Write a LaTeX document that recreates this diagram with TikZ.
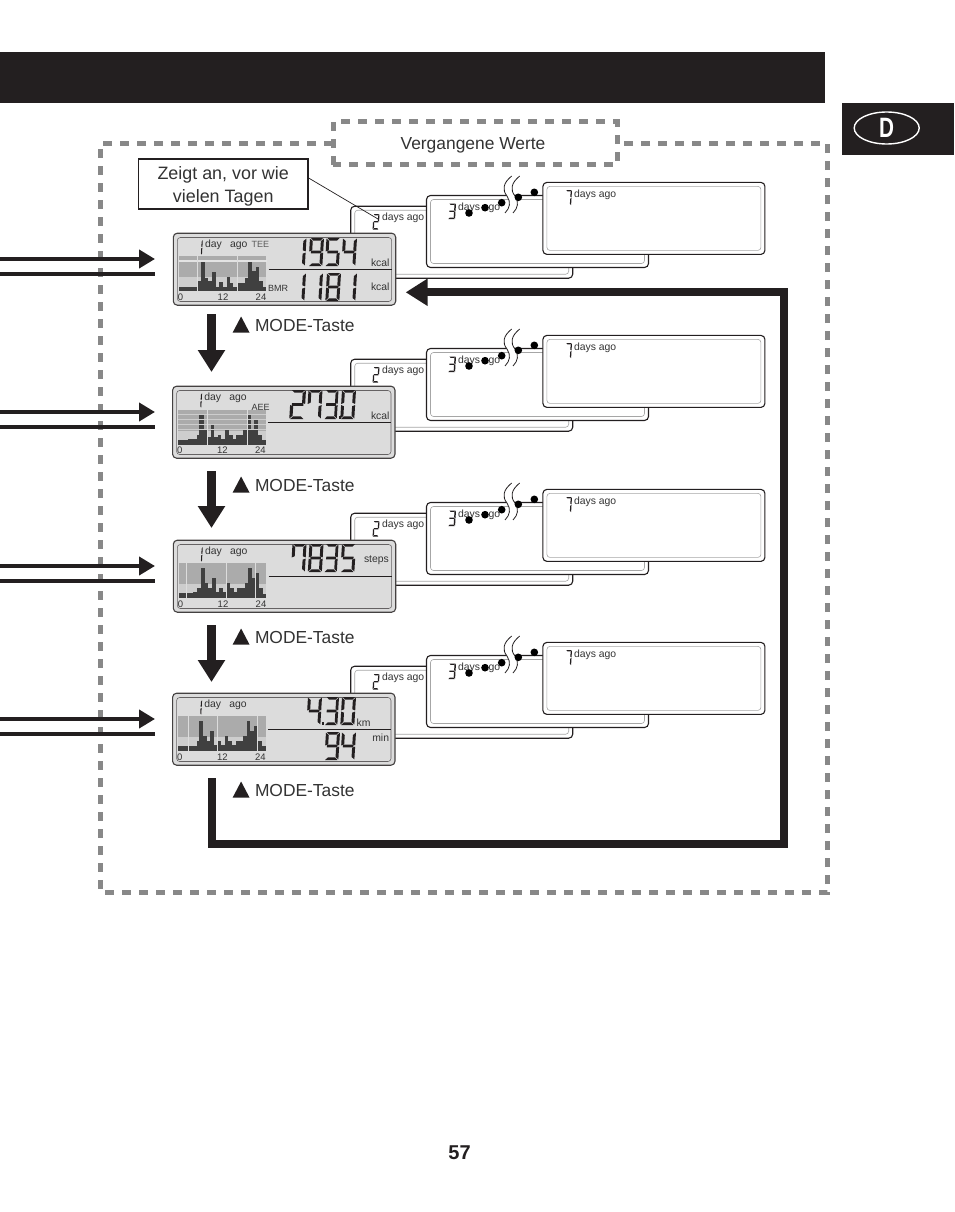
\documentclass[tikz,border=0pt]{standalone}
\usepackage{fontspec}
\setmainfont{Liberation Sans}
\usetikzlibrary{arrows.meta,shapes.geometric}
\definecolor{ink}{HTML}{231F20}
\definecolor{dashgray}{HTML}{888888}
\definecolor{txtgray}{HTML}{333333}
\definecolor{lcdbg}{HTML}{DCDCDC}
\definecolor{bandgray}{HTML}{ABABAB}
\definecolor{lowgray}{HTML}{CDCDCD}
\definecolor{barink}{HTML}{404040}
\tikzset{
  dashedline/.style={draw=dashgray,line width=5pt,dash pattern=on 9pt off 8pt},
  bigtxt/.style={inner sep=0pt,outer sep=0pt,text=txtgray,font=\fontsize{17.4}{23}\selectfont},
  lcdtxt/.style={inner sep=0pt,outer sep=0pt,text=txtgray,font=\fontsize{10.4}{12}\selectfont,anchor=base west},
  lcdsmall/.style={lcdtxt,text=black!65,font=\fontsize{9}{11}\selectfont},
  scaletxt/.style={inner sep=0pt,outer sep=0pt,text=txtgray,font=\fontsize{9.5}{11}\selectfont,anchor=base},
  lcdouter/.style={draw=ink!85,line width=1.1pt,fill=lcdbg,rounded corners=4pt,inner sep=0pt,outer sep=0pt,minimum width=222.4pt,minimum height=72pt},
  lcdinner/.style={draw=ink!70,line width=.55pt,rounded corners=3pt,inner sep=0pt,outer sep=0pt,minimum width=214.4pt,minimum height=64pt},
  bkouter/.style={draw=ink,line width=1.1pt,fill=white,rounded corners=4pt,inner sep=0pt,outer sep=0pt,minimum width=222pt,minimum height=72pt},
  bkinner/.style={draw=black!35,line width=.6pt,rounded corners=3pt,inner sep=0pt,outer sep=0pt,minimum width=214pt,minimum height=64pt},
  inline/.style={draw=ink,line width=4pt},
  inarrow/.style={inline,-{Triangle[length=16pt,width=18pt]}},
  downarrow/.style={draw=ink,line width=9.5pt,-{Triangle[length=22pt,width=26pt]}},
  loopline/.style={draw=ink,line width=8pt,miter limit=10,-{Triangle[length=22pt,width=26pt]}},
  daydot/.style={fill=black},
}
% seven-segment shapes
\def\sega{(.06,0)--(.94,0)--(.76,.09)--(.24,.09)--cycle}
\def\segd{(.06,1)--(.94,1)--(.76,.91)--(.24,.91)--cycle}
\def\segg{(.12,.455)--(.88,.455)--(.88,.545)--(.12,.545)--cycle}
\def\segf{(0,.02)--(.21,.11)--(.21,.44)--(0,.48)--cycle}
\def\sege{(0,.52)--(.21,.56)--(.21,.89)--(0,.98)--cycle}
\def\segb{(1,.02)--(.79,.11)--(.79,.44)--(1,.48)--cycle}
\def\segc{(1,.52)--(.79,.56)--(.79,.89)--(1,.98)--cycle}
\expandafter\def\csname dig0\endcsname{a,b,c,d,e,f}
\expandafter\def\csname dig1\endcsname{b,c}
\expandafter\def\csname dig2\endcsname{a,b,g,e,d}
\expandafter\def\csname dig3\endcsname{a,b,g,c,d}
\expandafter\def\csname dig4\endcsname{f,g,b,c}
\expandafter\def\csname dig5\endcsname{a,f,g,c,d}
\expandafter\def\csname dig7\endcsname{a,b,c,f}
\expandafter\def\csname dig8\endcsname{a,b,c,d,e,f,g}
\expandafter\def\csname dig9\endcsname{a,b,c,d,f,g}
\expandafter\def\csname digs\endcsname{a,b,c}
\newcommand\lcdd[5]{%
  \begin{scope}[shift={(#1,#2)},x={(#3pt,0pt)},y={(-0.06*#4pt,-#4pt)}]
    \edef\seglist{\csname dig#5\endcsname}%
    \foreach \s in \seglist {%
      \expandafter\let\expandafter\thisseg\csname seg\s\endcsname
      \fill[ink] \thisseg;
    }
  \end{scope}}
% bars: origin of a 3x crop, list of left/right/top in crop units
\newcommand\lcdbars[3]{%
  \begin{scope}[shift={(#1,#2)},x=0.33333pt,y=-0.33333pt]
    \foreach \ba/\bb/\bc in {#3} {\fill[barink] (\ba,\bc) rectangle (\bb,189);}
  \end{scope}}
\newcommand\lcdcut[3]{% vertical white rules
  \begin{scope}[shift={(#1,#2)},x=0.33333pt,y=-0.33333pt]
    \foreach \ba in {#3} {\draw[lcdbg,line width=.9pt] (\ba,83) -- (\ba,189);}
  \end{scope}}
\newcommand\lcdband[2]{%
  \begin{scope}[shift={(#1,#2)},x=0.33333pt,y=-0.33333pt]
    \fill[lowgray] (27,83) rectangle (289,189);
    \fill[bandgray] (27,83) rectangle (289,146);
  \end{scope}}
% main LCD frame
\newcommand\lcdframe[3]{%
  \begin{scope}[shift={(#2,#3)}]
    \node[lcdouter] (lcd#1) at (284.5,269.2) {};
    \node[lcdinner] (lcdin#1) at (284.5,269.5) {};
    \node[lcdtxt] (day#1) at (205,247) {day};
    \node[lcdtxt] (ago#1) at (230,247) {ago};
    \lcdd{197.8}{240}{5}{15}{1}
    \node[scaletxt] (zero#1) at (180.5,300) {0};
    \node[scaletxt] (twelve#1) at (223,300) {12};
    \node[scaletxt] (tfour#1) at (261,300) {24};
    \coordinate (ruleA#1) at (268.5,269.5);
    \coordinate (ruleB#1) at (391.5,269.5);
    \draw[ink,line width=.8pt] (ruleA#1) -- (ruleB#1);
  \end{scope}}
% the three cards behind each LCD
\newcommand\backset[2]{%
  \begin{scope}[shift={(0,#2)}]
    \node[bkouter] (card#1two) at (461.7,242.2) {};
    \node[bkinner] (cardin#1two) at (461.7,242.2) {};
    \lcdd{373.5}{214}{6}{15.5}{2}
    \node[lcdtxt] (dtwo#1) at (382,220.5) {days ago};
    \node[bkouter] (card#1three) at (537.5,231.5) {};
    \node[bkinner] (cardin#1three) at (537.5,231.5) {};
    \lcdd{449}{203.5}{7}{15.5}{3}
    \node[lcdtxt] (dthree#1) at (458,210) {days ago};
    \node[bkouter] (card#1seven) at (653.9,218.4) {};
    \node[bkinner] (cardin#1seven) at (653.9,218.4) {};
    \lcdd{566}{190}{6}{15.5}{s}
    \node[lcdtxt] (dseven#1) at (574,197.5) {days ago};
    \fill[white] (511.7,176) .. controls (503,183) and (502,190) .. (507,196) .. controls (511,202) and (510,208) .. (505,213)
      -- (513,213) .. controls (518,208) and (519,202) .. (515,196) .. controls (510,190) and (511,183) .. (519.7,176) -- cycle;
    \draw[ink,line width=.8pt] (511.7,176) .. controls (503,183) and (502,190) .. (507,196) .. controls (511,202) and (510,208) .. (505,213);
    \draw[ink,line width=.8pt] (519.7,176) .. controls (511,183) and (510,190) .. (515,196) .. controls (519,202) and (518,208) .. (513,213);
    \foreach \dx/\dy in {469/213,485/207.7,501.7/202.7,518.3/197.3,534.3/192.3} {\fill[daydot] (\dx,\dy) circle (3.8);}
  \end{scope}}
\newcommand\modekey[3]{%
  \fill[ink] (232.7,#2+7.5) -- (249.5,#2+7.5) -- (241.1,#2-8.5) -- cycle;
  \node[bigtxt,anchor=base west] (mode#1) at (255,#3) {MODE-Taste};}
\begin{document}
\begin{tikzpicture}[x=1pt,y=-1pt]
\useasboundingbox (0,0) rectangle (954,1212);
\fill[white] (0,0) rectangle (954,1212);
% header and tab
\fill[ink] (0,52) rectangle (825,103);
\fill[ink] (842,103) rectangle (954,155);
\node[draw=white,line width=1.4pt,ellipse,inner sep=0pt,minimum width=65pt,minimum height=32pt] (badge) at (886.7,128) {};
\node[text=white,inner sep=0pt,xscale=.74,transform shape,font=\bfseries\fontsize{28}{28}\selectfont] (badgeD) at (886.7,128) {D};
% dashed boundary
\draw[dashedline] (333,143.5) -- (100.5,143.5) -- (100.5,892.5) -- (827.5,892.5) -- (827.5,143.5) -- (617,143.5);
\draw[dashedline] (333.3,164.8) -- (333.3,121.8) -- (617,121.8) -- (617,164.8) -- cycle;
\node[bigtxt] (past) at (473,145) {Vergangene Werte};
% back cards
\backset{1}{0}
\backset{2}{153}
\backset{3}{307}
\backset{4}{460}
% callout
\node[draw=ink,line width=1.3pt,fill=white,minimum width=169.5pt,minimum height=50pt,inner sep=0pt] (callout) at (223.2,184) {};
\node[bigtxt,align=center,font=\fontsize{17.9}{23}\selectfont] (calloutTxt) at (223.2,186.5) {Zeigt an, vor wie\\vielen Tagen};
\coordinate (leaderEnd) at (378,219);
\draw[ink,line width=.7pt] (callout.east |- 0,178) -- (leaderEnd);
% LCDs
\lcdframe{1}{0}{0}
\lcdframe{2}{-.7}{153}
\lcdframe{3}{0}{307}
\lcdframe{4}{-.7}{460}
% row 1 graph
\lcdband{170}{228}
\fill[lcdbg!80!white] (179,260.3) rectangle (266.7,261.5);
\lcdbars{170}{228}{27/81/177,84/93/160,93/105/102,105/115/150,115/125/160,125/137/133,137/147/178,147/160/162,160/170/178,170/180/148,180/190/165,190/203/178,205/225/165,225/233/150,233/247/102,247/258/130,258/268/118,268/278/160,278/289/178}
\lcdcut{170}{228}{82.5,203.5}
% row 2 graph
\lcdband{169.3}{382}
\lcdbars{169.3}{382}{27/55/175,55/82/172,82/90/160,90/103/100,103/112/145,115/125/165,125/135/128,135/145/165,145/155/158,155/167/172,167/178/145,178/190/160,190/200/172,200/222/160,222/232/145,234/245/100,245/255/145,255/265/113,265/277/160,277/289/175}
\begin{scope}[shift={(169.3,382)},x=0.33333pt,y=-0.33333pt]
  \foreach \hy in {98,112.5,127,142} {\draw[lowgray,line width=.8pt] (27,\hy) -- (289,\hy);}
\end{scope}
\lcdcut{169.3}{382}{113,233}
% row 3 graph
\lcdband{170}{535}
\lcdbars{170}{535}{27/48/175,50/70/175,70/82/172,82/93/158,93/104/100,104/114/145,114/126/160,126/137/130,137/147/172,147/158/160,158/168/172,170/180/145,180/192/160,192/202/172,202/224/160,224/234/145,234/245/100,245/255/130,258/267/115,267/278/160,278/289/178}
\lcdcut{170}{535}{49,169,257}
% row 4 graph
\lcdband{169.3}{688}
\lcdbars{169.3}{688}{27/57/175,60/82/175,82/90/158,90/102/100,102/112/145,112/123/160,123/134/130,134/144/172,147/156/160,156/167/172,167/177/145,177/188/160,188/200/172,200/222/160,222/233/145,233/243/100,243/254/128,254/264/115,267/277/160,277/289/175}
\lcdcut{169.3}{688}{58.5,145.5,265.5}
% row labels
\node[lcdsmall] (tee) at (251.7,247) {TEE};
\node[lcdsmall,text=txtgray] (bmr) at (268,291) {BMR};
\node[lcdsmall,text=txtgray] (aee) at (251.5,410) {AEE};
\node[lcdtxt] (kcalA) at (371,266) {kcal};
\node[lcdtxt] (kcalB) at (371,290) {kcal};
\node[lcdtxt] (kcalC) at (371,419.5) {kcal};
\node[lcdtxt] (stepsU) at (364,562.5) {steps};
\node[lcdtxt] (kmU) at (356.7,726) {km};
\node[lcdtxt] (minU) at (372.3,741) {min};
% big digits
\lcdd{292.5}{238}{14}{28}{1}\lcdd{310}{238}{14}{28}{9}\lcdd{326.5}{238}{14}{28}{5}\lcdd{343}{238}{14}{28}{4}
\lcdd{292}{273}{14}{28}{1}\lcdd{309}{273}{14}{28}{1}\lcdd{327}{273}{14}{28}{8}\lcdd{343}{273}{14}{28}{1}
\lcdd{291}{390}{15}{29}{2}\lcdd{308.5}{390}{14}{29}{7}\lcdd{325.5}{390}{13}{29}{3}\lcdd{342}{390}{14}{29}{0}
\fill[ink] (339,416) rectangle (341,418.5);
\lcdd{292.5}{544}{14}{28}{7}\lcdd{309.5}{544}{14}{28}{8}\lcdd{325.5}{544}{13}{28}{3}\lcdd{342}{544}{14}{28}{5}
\lcdd{308}{697}{14}{28}{4}\lcdd{326}{697}{13}{28}{3}\lcdd{342}{697}{14}{28}{0}
\fill[ink] (321.5,722) rectangle (323.7,724.5);
\lcdd{326}{732}{14}{28}{9}\lcdd{342}{732}{14}{28}{4}
% input arrows
\foreach \ry/\ly/\id in {259/274/1,412/427/2,566/581/3,719/734/4} {
  \coordinate (inS\id) at (0,\ry);
  \coordinate (inE\id) at (155,\ry);
  \coordinate (barS\id) at (0,\ly);
  \coordinate (barE\id) at (155,\ly);
  \draw[inarrow] (inS\id) -- (inE\id);
  \draw[inline] (barS\id) -- (barE\id);
}
% mode arrows
\coordinate (dnA1) at (211.5,314); \coordinate (dnB1) at (211.5,372);
\coordinate (dnA2) at (211.5,471); \coordinate (dnB2) at (211.5,528);
\coordinate (dnA3) at (211.5,625); \coordinate (dnB3) at (211.5,682);
\draw[downarrow] (dnA1) -- (dnB1);
\draw[downarrow] (dnA2) -- (dnB2);
\draw[downarrow] (dnA3) -- (dnB3);
\modekey{1}{325}{331}
\modekey{2}{485}{491}
\modekey{3}{637}{643}
\modekey{4}{790}{796}
% return loop
\coordinate (loopS) at (211.5,778);
\coordinate (loopA) at (211.5,844);
\coordinate (loopB) at (784,844);
\coordinate (loopC) at (784,292.3);
\coordinate (loopE) at (405.7,292.3);
\draw[loopline] (loopS) -- (loopA) -- (loopB) -- (loopC) -- (loopE);
% page number
\node[inner sep=0pt,text=ink,font=\bfseries\fontsize{20}{20}\selectfont] (pageno) at (459.5,1153) {57};
\end{tikzpicture}
\end{document}
